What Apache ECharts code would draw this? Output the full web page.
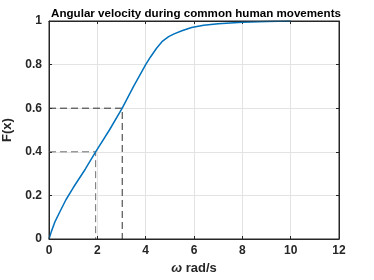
<!DOCTYPE html>
<html><head><meta charset="utf-8">
<script src="https://cdn.jsdelivr.net/npm/echarts@6/dist/echarts.min.js"></script>
<style>html,body{margin:0;padding:0;background:#fff}#c{width:374px;height:280px}</style>
</head><body><div id="c"></div>
<script>
var omega = [0, 0.1, 0.25, 0.45, 0.7, 1.0, 1.5, 1.93, 2.5, 3.03, 3.5, 4.0, 4.2, 4.45, 4.7, 4.95, 5.2, 5.5, 5.9, 6.4, 7.0, 8.0, 9.0, 10.0];
var cdf   = [0, 0.035, 0.08, 0.125, 0.18, 0.235, 0.32, 0.40, 0.50, 0.60, 0.70, 0.80, 0.835, 0.875, 0.908, 0.928, 0.942, 0.955, 0.970, 0.980, 0.987, 0.994, 0.998, 1.0];
var quantileLevels = [0.4, 0.6];
var quantileOmega  = [1.93, 3.03];
var quantileColors = ['#707070', '#303030'];
var xRange = [0, 12];
var yRange = [0, 1];
var yTicks = [0, 0.2, 0.4, 0.6, 0.8, 1];

var font = 'Liberation Sans, Arial, sans-serif';
var series = [{
  type: 'line', xAxisIndex: 0, yAxisIndex: 0,
  data: omega.map(function(x, i){ return [x, cdf[i]]; }),
  showSymbol: false, smooth: false, z: 5,
  lineStyle: {color: '#0072BD', width: 1.5}
}, {
  // axes box drawn through the axis limits
  type: 'line', xAxisIndex: 0, yAxisIndex: 0, showSymbol: false, silent: true, clip: false, z: 6,
  data: [[xRange[0], yRange[0]], [xRange[1], yRange[0]], [xRange[1], yRange[1]], [xRange[0], yRange[1]], [xRange[0], yRange[0]]],
  lineStyle: {color: '#262626', width: 1}
}];
quantileLevels.forEach(function(q, i){
  series.push({
    type: 'line', xAxisIndex: 0, yAxisIndex: 0, showSymbol: false, z: 4,
    data: [[0, q], [quantileOmega[i], q], [quantileOmega[i], 0]],
    lineStyle: {color: quantileColors[i], width: 1, type: [7, 4]}
  });
});
var axisCommon = {
  axisLine: {show: true, onZero: false, lineStyle: {color: '#262626', width: 1}},
  axisTick: {show: true, inside: true, length: 3, lineStyle: {color: '#262626'}},
};
var split = {show: true, showMinLine: false, showMaxLine: false, lineStyle: {color: '#e3e3e3', width: 1}};
var chart = echarts.init(document.getElementById('c'));
chart.setOption({
  animation: false,
  title: {text: 'Angular velocity during common human movements', left: 191, textAlign: 'center', top: 3,
    textStyle: {fontFamily: font, fontSize: 11.6, fontWeight: 'bold', color: '#000'}},
  grid: {left: 49, right: 35, top: 21, bottom: 41, containLabel: false, outerBoundsMode: 'none'},
  xAxis: [Object.assign({}, axisCommon, {
    type: 'value', min: xRange[0], max: xRange[1], interval: 2, position: 'bottom',
    name: '{w|ω} rad/s', nameLocation: 'middle', nameGap: 23,
    nameTextStyle: {fontFamily: font, fontSize: 13, fontWeight: 'bold', color: '#262626',
      rich: {w: {fontFamily: font, fontSize: 13, fontStyle: 'italic', fontWeight: 'bold', color: '#262626'}}},
    axisLabel: {fontFamily: font, fontSize: 12, fontWeight: 'bold', color: '#262626', margin: 6},
    splitLine: split
  }), Object.assign({}, axisCommon, {
    type: 'value', min: xRange[0], max: xRange[1], interval: 2, position: 'top',
    axisLabel: {show: false}, splitLine: {show: false}
  })],
  yAxis: [Object.assign({}, axisCommon, {
    type: 'value', min: yRange[0], max: yRange[1], interval: 0.2, position: 'left',
    name: 'F(x)', nameLocation: 'middle', nameGap: 29,
    nameTextStyle: {fontFamily: font, fontSize: 13, fontWeight: 'bold', color: '#262626'},
    axisLabel: {fontFamily: font, fontSize: 12, fontWeight: 'bold', color: '#262626', margin: 7,
      formatter: function(v){ return yTicks.indexOf(+v.toFixed(1)) >= 0 ? String(+v.toFixed(1)) : ''; }},
    splitLine: split
  }), Object.assign({}, axisCommon, {
    type: 'value', min: yRange[0], max: yRange[1], interval: 0.2, position: 'right',
    axisLabel: {show: false}, splitLine: {show: false}
  })],
  series: series
});
</script></body></html>
